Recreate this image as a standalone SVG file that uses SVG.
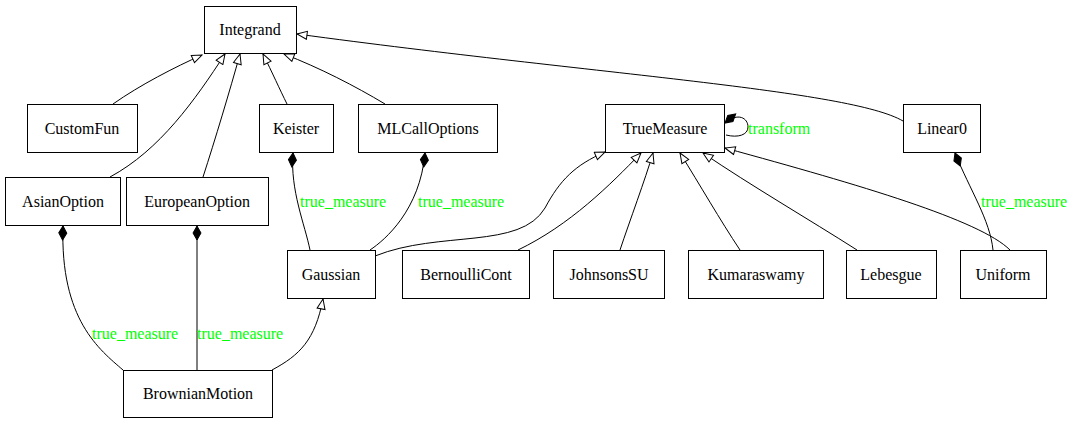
<svg xmlns="http://www.w3.org/2000/svg" width="1085" height="423" viewBox="0 0 1085 423">
<style>
text{font-family:'Liberation Serif','Times New Roman','DejaVu Serif',serif;font-size:16px}
.n rect{fill:#fff;stroke:#000;stroke-width:1}
.n text{text-anchor:middle;fill:#000}
.e path{fill:none;stroke:#000;stroke-width:1}
.lbl{fill:#00ff00}
</style>
<defs>
<marker id="tri" markerWidth="12" markerHeight="10" refX="11" refY="5" orient="auto" markerUnits="userSpaceOnUse">
<path d="M1,1 L11,5 L1,9 Z" fill="#fff" stroke="#000"/>
</marker>
<marker id="dia" markerWidth="16" markerHeight="10" refX="1" refY="5" orient="auto" markerUnits="userSpaceOnUse">
<path d="M1,5 L8,1 L15,5 L8,9 Z" fill="#000" stroke="#000"/>
</marker>
</defs>
<rect width="1085" height="423" fill="#fff"/>
<g class="e">
<path d="M113,104 C140,85 175,67 202,55" marker-end="url(#tri)"/>
<path d="M110,177 C160,150 195,100 225,54" marker-end="url(#tri)"/>
<path d="M203,177 C215,140 230,90 240,54" marker-end="url(#tri)"/>
<path d="M287,104 C280,90 272,72 263,54" marker-end="url(#tri)"/>
<path d="M385,104 C355,86 320,68 284,54" marker-end="url(#tri)"/>
<path d="M903,121 C850,90 600,75 297,34" marker-end="url(#tri)"/>
<path d="M375,256 C440,230 520,250 545,208 C560,180 575,165 605,152" marker-end="url(#tri)"/>
<path d="M518,250 C570,225 610,185 641,153" marker-end="url(#tri)"/>
<path d="M620,250 C630,220 645,180 653,153" marker-end="url(#tri)"/>
<path d="M740,250 C720,220 700,185 680,153" marker-end="url(#tri)"/>
<path d="M857,250 C810,220 750,185 703,153" marker-end="url(#tri)"/>
<path d="M1010,250 C980,220 860,185 725,148" marker-end="url(#tri)"/>
<path d="M272,370 C300,355 315,340 323,299" marker-end="url(#tri)"/>
<path d="M293,153 C290,190 305,225 310,250" marker-start="url(#dia)"/>
<path d="M425,153 C420,210 385,240 370,250" marker-start="url(#dia)"/>
<path d="M63,226 C60,320 100,350 123,370" marker-start="url(#dia)"/>
<path d="M197,226 L197,370" marker-start="url(#dia)"/>
<path d="M955,153 C970,190 990,220 993,250" marker-start="url(#dia)"/>
<path d="M725,123 C738,112 748,118 748,127 C748,135 738,138 726,135" marker-start="url(#dia)"/>
</g>
<text class="lbl" x="748" y="134">transform</text>
<text class="lbl" x="300" y="207">true_measure</text>
<text class="lbl" x="418" y="207">true_measure</text>
<text class="lbl" x="981" y="207">true_measure</text>
<text class="lbl" x="92" y="339">true_measure</text>
<text class="lbl" x="197" y="339">true_measure</text>
<g id="Integrand" class="n"><rect x="204.5" y="6.5" width="92" height="47"/><text x="250" y="35">Integrand</text></g>
<g id="CustomFun" class="n"><rect x="27.5" y="104.5" width="110" height="48"/><text x="82" y="134">CustomFun</text></g>
<g id="Keister" class="n"><rect x="259.5" y="104.5" width="74" height="48"/><text x="296" y="134">Keister</text></g>
<g id="MLCallOptions" class="n"><rect x="358.5" y="104.5" width="139" height="48"/><text x="428" y="134">MLCallOptions</text></g>
<g id="TrueMeasure" class="n"><rect x="605.5" y="104.5" width="119" height="48"/><text x="665" y="134">TrueMeasure</text></g>
<g id="Linear0" class="n"><rect x="903.5" y="104.5" width="77" height="48"/><text x="942" y="134">Linear0</text></g>
<g id="AsianOption" class="n"><rect x="5.5" y="177.5" width="115" height="48"/><text x="63" y="207">AsianOption</text></g>
<g id="EuropeanOption" class="n"><rect x="126.5" y="177.5" width="142" height="48"/><text x="197" y="207">EuropeanOption</text></g>
<g id="Gaussian" class="n"><rect x="287.5" y="250.5" width="88" height="48"/><text x="331" y="280">Gaussian</text></g>
<g id="BernoulliCont" class="n"><rect x="402.5" y="250.5" width="127" height="48"/><text x="466" y="280">BernoulliCont</text></g>
<g id="JohnsonsSU" class="n"><rect x="553.5" y="250.5" width="111" height="48"/><text x="609" y="280">JohnsonsSU</text></g>
<g id="Kumaraswamy" class="n"><rect x="688.5" y="250.5" width="135" height="48"/><text x="756" y="280">Kumaraswamy</text></g>
<g id="Lebesgue" class="n"><rect x="846.5" y="250.5" width="90" height="48"/><text x="891" y="280">Lebesgue</text></g>
<g id="Uniform" class="n"><rect x="960.5" y="250.5" width="86" height="48"/><text x="1003" y="280">Uniform</text></g>
<g id="BrownianMotion" class="n"><rect x="123.5" y="370.5" width="149" height="47"/><text x="198" y="399">BrownianMotion</text></g>
</svg>
